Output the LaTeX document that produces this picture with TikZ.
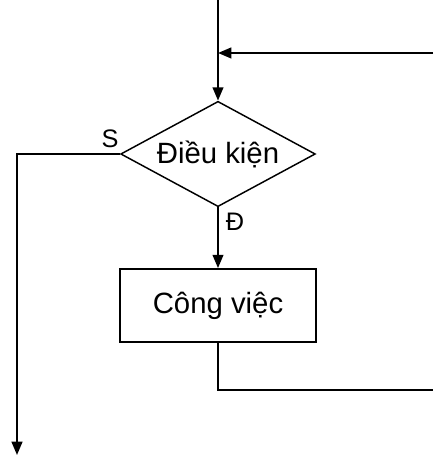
\documentclass[tikz,border=0pt]{standalone}
\usepackage{fontspec}
\setmainfont{Liberation Sans}
\usetikzlibrary{shapes.geometric,arrows.meta}
\begin{document}
\begin{tikzpicture}[x=.75pt,y=.75pt,line width=1.6pt,>={Triangle[length=10pt,width=8pt]},
 line join=miter,font=\fontsize{22}{26}\selectfont,
 cond/.style={diamond,draw,line width=1.1pt,inner sep=0pt,aspect=1.85,
  minimum width=146pt,minimum height=79pt},
 work/.style={rectangle,draw,line width=1.1pt,minimum width=147pt,minimum height=55pt},
 lbl/.style={font=\fontsize{19}{22}\selectfont}]
\useasboundingbox (0,0) rectangle (433,463);
\coordinate (in) at (218,463);
\coordinate (back) at (433,410);
\coordinate (join) at (218,410);
\node[cond] (test) at (218,309) {Điều kiện};
\node[work] (body) at (218,157.5) {Công việc};
\coordinate (sturn) at (17,309);
\coordinate (out) at (17,8);
\coordinate (bturn) at (218,73);
\coordinate (bend) at (433,73);
% loop entry and return
\draw[->] (in)--(test.north);
\draw[->] (back)--(join);
% false branch leaves the loop
\draw[->] (test.west)--(sturn)--(out);
\node[lbl] (no) at (110,324) {S};
% true branch runs the body and goes back
\draw[->] (test.south)--(body.north);
\node[lbl] (yes) at (235,241) {Đ};
\draw (body.south)--(bturn)--(bend);
\end{tikzpicture}
\end{document}
